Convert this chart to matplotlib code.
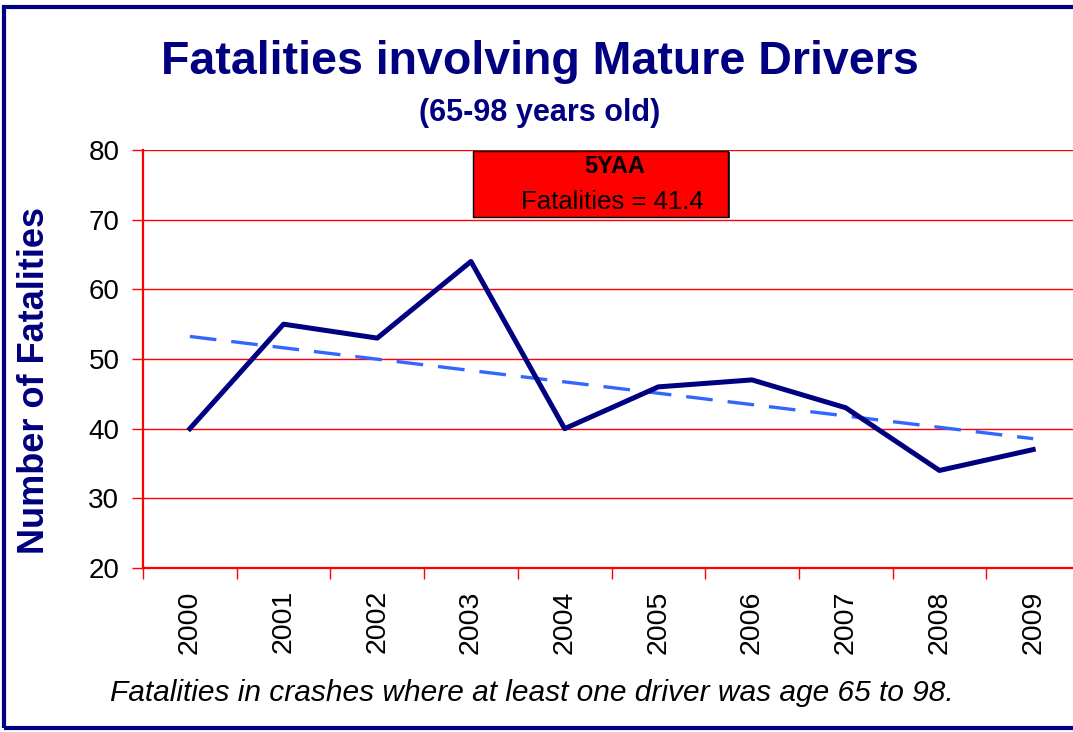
import numpy as np
import matplotlib.pyplot as plt
from matplotlib.patches import Rectangle

years = ['2000', '2001', '2002', '2003', '2004', '2005', '2006', '2007', '2008', '2009']
fatalities = [40, 55, 53, 64, 40, 46, 47, 43, 34, 37]
avg_label = '5YAA'
avg_text = 'Fatalities = 41.4'

navy = '#000080'
plt.rcParams['font.family'] = ['Liberation Sans', 'DejaVu Sans']

fig = plt.figure(figsize=(10.73, 7.32), dpi=100)
ax = fig.add_axes([143 / 1073, 1 - 568 / 732, 937 / 1073, 418 / 732])

x = np.arange(len(years))
# linear trend through the yearly values
k, b = np.polyfit(x, fatalities, 1)
ax.plot(x, k * x + b, color='#3366ff', lw=2.4, dashes=(8, 4.5), zorder=3)
ax.plot(x, fatalities, color=navy, lw=3.6, zorder=4)

ax.set_xlim(-0.5, 9.5)
ax.set_ylim(20, 80)
ax.set_yticks(range(20, 81, 10))
ax.set_xticks(x)
ax.set_xticklabels(years, rotation=90, fontsize=20.5)
ax.set_xticks(np.arange(-0.5, 10, 1), minor=True)
ax.tick_params(axis='x', which='major', length=0, pad=16)
ax.tick_params(axis='x', which='minor', length=8, color='red', width=1)
ax.tick_params(axis='y', length=8, color='red', width=1, labelsize=20, pad=9)
ax.yaxis.grid(True, color='red', lw=1)
ax.set_axisbelow(True)
for s in ['top', 'right']:
    ax.spines[s].set_visible(False)
for s in ['left', 'bottom']:
    ax.spines[s].set_color('red')
    ax.spines[s].set_linewidth(1.6)

# 5 year average box
ax.add_patch(Rectangle((3.04, 70.25), 2.72, 9.4, facecolor='#333333', edgecolor='none', zorder=5))
ax.add_patch(Rectangle((3.02, 70.45), 2.72, 9.4, facecolor='red', edgecolor='black', lw=1, zorder=6))
ax.text(4.53, 77.6, avg_label, ha='center', va='center', fontsize=17, fontweight='bold', zorder=7)
ax.text(4.51, 72.6, avg_text, ha='center', va='center', fontsize=18.5, zorder=7)

fig.text(0.503, 1 - 62 / 732, 'Fatalities involving Mature Drivers', ha='center', va='center',
         fontsize=33.5, fontweight='bold', color=navy)
fig.text(0.503, 1 - 113 / 732, '(65-98 years old)', ha='center', va='center',
         fontsize=22, fontweight='bold', color=navy)
fig.text(35 / 1073, 1 - 380 / 732, 'Number of Fatalities', rotation=90, ha='center', va='center',
         fontsize=26, fontweight='bold', color=navy)
fig.text(110 / 1073, 1 - 693 / 732, 'Fatalities in crashes where at least one driver was age 65 to 98.',
         ha='left', va='center', fontsize=21.5, style='italic')

# navy frame around the chart
fig.patches.append(Rectangle((4 / 1073, 4 / 732), 1.2, 1 - 11 / 732, transform=fig.transFigure,
                             fill=False, edgecolor=navy, lw=3))

fig.savefig('out.png', dpi=100)
